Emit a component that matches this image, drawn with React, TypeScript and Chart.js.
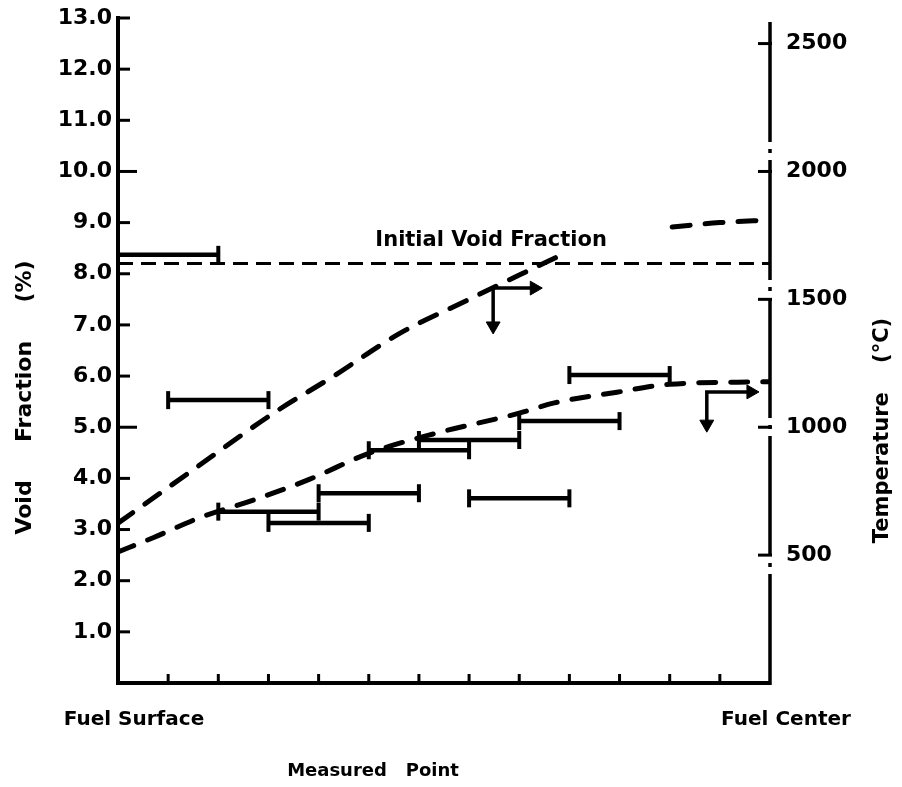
import React, { useEffect, useRef } from 'react';
import { Chart, registerables } from 'chart.js';

Chart.register(...registerables);

// ---- axis ticks / labels ----
const xTickMarks = [1, 2, 3, 4, 5, 6, 7, 8, 9, 10, 11, 12];
const xEndValues = [0, 13];
const xEndLabels = ['Fuel Surface', 'Fuel Center'];
const voidTicks = [1, 2, 3, 4, 5, 6, 7, 8, 9, 10, 11, 12, 13];
const tempTicks = [500, 1000, 1500, 2000, 2500];

// ---- measured void fraction (horizontal range bars) ----
const barStart = [0, 1, 2, 3, 4, 5, 6, 7, 8, 9];
const barEnd = [2, 3, 4, 5, 6, 7, 8, 9, 10, 11];
const barVoid = [8.37, 5.53, 3.35, 3.13, 3.71, 4.55, 4.75, 3.61, 5.12, 6.02];

// ---- initial void fraction ----
const initialVoid = 8.2;

// ---- temperature curves (°C) ----
const upperCurveX = [0, 1.4, 3.1, 4.3, 5.6, 7, 8, 8.8, 10, 11.05, 12, 13];
const upperCurveTemp = [625, 820, 1055, 1200, 1365, 1500, 1595, 1670, null, 1783, 1800, 1810];
const lowerCurveX = [0, 0.7, 1.65, 2.7, 3.8, 5, 6.35, 8, 8.7, 9.95, 11, 13];
const lowerCurveTemp = [512, 568, 648, 715, 795, 898, 977, 1055, 1095, 1137, 1168, 1178];

// ---- arrows ----
const arrowX = [7.48, 11.74];
const arrowVoid = [7.72, 5.69];
const arrowRightTo = [8.3, 12.62];
const arrowDownTo = [6.98, 5.06];

// ---- texts ----
const noteText = 'Initial Void Fraction';
const noteX = 7.44;
const noteY = 8.65;
const yTitle = 'Void     Fraction     (%)';
const y2Title = 'Temperature    (°C)';
const xTitle = 'Measured   Point';

const FONT = '"DejaVu Sans", "Liberation Sans", sans-serif';
const BLACK = '#000';

const zeroPad = (s: any) => {
  s.paddingLeft = 0;
  s.paddingRight = 0;
  s.paddingTop = 0;
  s.paddingBottom = 0;
};

const decorPlugin = {
  id: 'decor',
  afterDraw(chart: any) {
    const { ctx, chartArea, scales } = chart;
    const sx = scales.x;
    const sy = scales.y;
    const sy2 = scales.y2;
    ctx.save();
    ctx.strokeStyle = BLACK;
    ctx.fillStyle = BLACK;
    ctx.lineWidth = 3;
    ctx.lineCap = 'butt';
    const line = (x1: number, y1: number, x2: number, y2: number) => {
      ctx.beginPath();
      ctx.moveTo(x1, y1);
      ctx.lineTo(x2, y2);
      ctx.stroke();
    };

    // right axis: dash-dot spine
    ctx.save();
    ctx.lineWidth = 3.5;
    ctx.setLineDash([120, 7, 4, 7]);
    line(chartArea.right, chartArea.top + 4, chartArea.right, chartArea.bottom + 2);
    ctx.restore();

    // inward tick marks
    voidTicks.forEach((v) => {
      const py = sy.getPixelForValue(v);
      const len = v % 5 === 0 ? 19 : 12;
      line(chartArea.left, py, chartArea.left + len, py);
    });
    tempTicks.forEach((v) => {
      const py = sy2.getPixelForValue(v);
      line(chartArea.right - 12, py, chartArea.right + 2, py);
    });
    xTickMarks.forEach((v) => {
      const px = sx.getPixelForValue(v);
      line(px, chartArea.bottom, px, chartArea.bottom - 9);
    });

    // annotation
    ctx.textAlign = 'center';
    ctx.textBaseline = 'middle';
    ctx.font = `bold 21px ${FONT}`;
    ctx.fillText(noteText, sx.getPixelForValue(noteX), sy.getPixelForValue(noteY));

    // axis titles
    const midY = (chartArea.top + chartArea.bottom) / 2;
    ctx.font = `bold 22px ${FONT}`;
    ctx.save();
    ctx.translate(chartArea.left - 93, midY + 47);
    ctx.rotate(-Math.PI / 2);
    ctx.fillText(yTitle, 0, 0);
    ctx.restore();

    ctx.font = `bold 21px ${FONT}`;
    ctx.save();
    ctx.translate(chartArea.right + 113, midY + 80);
    ctx.rotate(-Math.PI / 2);
    ctx.fillText(y2Title, 0, 0);
    ctx.restore();

    ctx.font = `bold 18px ${FONT}`;
    ctx.fillText(xTitle, chartArea.left + 255, chartArea.bottom + 88);
    ctx.restore();
  },
};

export default function App() {
  const canvasRef = useRef<HTMLCanvasElement | null>(null);

  useEffect(() => {
    const canvas = canvasRef.current;
    if (!canvas) return;

    const barPoints = barStart.flatMap((s, i) => [
      { x: s, y: barVoid[i] },
      { x: barEnd[i], y: barVoid[i] },
      { x: barEnd[i], y: null },
    ]);
    const arrowPoints = arrowX.flatMap((cx, i) => [
      { x: arrowRightTo[i], y: arrowVoid[i] },
      { x: cx, y: arrowVoid[i] },
      { x: cx, y: arrowDownTo[i] },
      { x: cx, y: null },
    ]);
    const arrowHeads = arrowX.flatMap((cx, i) => [
      { x: arrowRightTo[i], y: arrowVoid[i] },
      { x: cx, y: arrowDownTo[i] },
    ]);

    const chart = new Chart(canvas, {
      type: 'line',
      data: {
        datasets: [
          {
            label: 'Initial Void Fraction',
            data: xEndValues.map((x) => ({ x, y: initialVoid })),
            yAxisID: 'y',
            borderColor: BLACK,
            borderWidth: 3,
            borderDash: [15, 8],
            pointRadius: 0,
          },
          {
            label: 'Temperature (upper)',
            data: upperCurveX.map((x, i) => ({ x, y: upperCurveTemp[i] })),
            yAxisID: 'y2',
            borderColor: BLACK,
            borderWidth: 5,
            borderDash: [18, 15],
            borderCapStyle: 'round',
            cubicInterpolationMode: 'monotone',
            spanGaps: false,
            pointRadius: 0,
          },
          {
            label: 'Temperature (lower)',
            data: lowerCurveX.map((x, i) => ({ x, y: lowerCurveTemp[i] })),
            yAxisID: 'y2',
            borderColor: BLACK,
            borderWidth: 5,
            borderDash: [17, 15],
            borderCapStyle: 'round',
            cubicInterpolationMode: 'monotone',
            pointRadius: 0,
          },
          {
            label: 'Measured void fraction',
            data: barPoints,
            yAxisID: 'y',
            borderColor: BLACK,
            borderWidth: 4.5,
            spanGaps: false,
            pointStyle: 'line',
            pointRotation: 90,
            pointRadius: 9,
            pointBorderWidth: 4,
            pointBorderColor: BLACK,
          },
          {
            label: 'Arrows',
            data: arrowPoints,
            yAxisID: 'y',
            borderColor: BLACK,
            borderWidth: 3.5,
            spanGaps: false,
            pointRadius: 0,
          },
          {
            label: 'Arrow heads',
            data: arrowHeads,
            yAxisID: 'y',
            showLine: false,
            pointStyle: 'triangle',
            pointRotation: (c: any) => (c.dataIndex % 2 === 0 ? 90 : 180),
            pointRadius: 8,
            pointBackgroundColor: BLACK,
            pointBorderColor: BLACK,
            pointBorderWidth: 1,
          },
        ],
      },
      options: {
        animation: false,
        responsive: true,
        maintainAspectRatio: false,
        events: [],
        layout: { padding: { top: 18, left: 0, right: 0, bottom: 0 } },
        plugins: {
          legend: { display: false },
          tooltip: { enabled: false },
        },
        scales: {
          x: {
            type: 'linear',
            position: 'bottom',
            min: 0,
            max: 13,
            afterBuildTicks: (s: any) => {
              s.ticks = xEndValues.map((value) => ({ value }));
            },
            afterFit: (s: any) => {
              s.height = 104;
              zeroPad(s);
            },
            ticks: {
              autoSkip: false,
              maxRotation: 0,
              minRotation: 0,
              padding: 25,
              labelOffset: 16,
              color: BLACK,
              font: { family: FONT, weight: 'bold', size: 20 },
              callback: (_v: any, i: number) => xEndLabels[i],
            },
            grid: { drawOnChartArea: false, drawTicks: false },
            border: { display: true, color: BLACK, width: 4 },
          },
          y: {
            type: 'linear',
            position: 'left',
            min: 0,
            max: 13,
            afterBuildTicks: (s: any) => {
              s.ticks = voidTicks.map((value) => ({ value }));
            },
            afterFit: (s: any) => {
              s.width = 118;
              zeroPad(s);
            },
            ticks: {
              padding: 6,
              color: BLACK,
              font: { family: FONT, weight: 'bold', size: 22 },
              callback: (v: any) => Number(v).toFixed(1),
            },
            grid: { drawOnChartArea: false, drawTicks: false },
            border: { display: true, color: BLACK, width: 4 },
          },
          y2: {
            type: 'linear',
            position: 'right',
            min: 0,
            max: 2600,
            afterBuildTicks: (s: any) => {
              s.ticks = tempTicks.map((value) => ({ value }));
            },
            afterFit: (s: any) => {
              s.width = 132;
              zeroPad(s);
            },
            ticks: {
              padding: 16,
              color: BLACK,
              font: { family: FONT, weight: 'bold', size: 22 },
              callback: (v: any) => String(v),
            },
            grid: { drawOnChartArea: false, drawTicks: false },
            border: { display: false },
          },
        },
      },
      plugins: [decorPlugin],
    } as any);

    return () => chart.destroy();
  }, []);

  return (
    <div style={{ position: 'absolute', left: 0, top: 0, width: 902, height: 787, background: '#fff' }}>
      <canvas ref={canvasRef} style={{ display: 'block' }} />
    </div>
  );
}
